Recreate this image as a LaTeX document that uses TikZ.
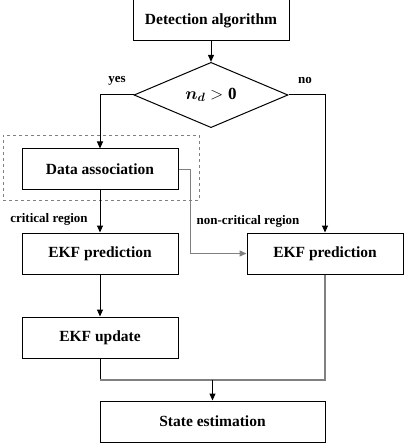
\documentclass[tikz,border=0pt]{standalone}
\usepackage{fontspec}
\setmainfont{Liberation Serif}
\usepackage{amsmath}
\usepackage{bm}
\usetikzlibrary{arrows.meta, positioning, shapes.geometric}
\tikzset{%
	stagebox/.style={
		rectangle,
		draw,
		line width=1pt,
		minimum width=156pt,
		minimum height=41pt,
		inner sep=0pt,
		font=\fontsize{15.5}{18}\selectfont\bfseries
	},
	condbox/.style={
		diamond,
		draw,
		line width=1pt,
		minimum width=154pt,
		minimum height=38pt,
		inner sep=0pt,
		font=\fontsize{17}{20}\selectfont
	},
	groupbox/.style={
		rectangle,
		draw=gray,
		dashed,
		line width=0.6pt,
		inner sep=0pt
	},
	tag/.style={
		font=\fontsize{13}{15}\selectfont\bfseries,
		inner sep=0pt
	},
	link/.style={
		line width=1pt,
		-{Triangle[length=7pt,width=6pt]}
	},
	greylink/.style={
		link,
		draw=black!50,
		line width=1.2pt
	},
}

\begin{document}
\begin{tikzpicture}[x=1pt, y=-1pt]
			\useasboundingbox (0,0) rectangle (404,443);
			
			% Boxes
			\node[stagebox] (detect) at (211,20.5) {Detection algorithm};
			\node[condbox] (cond) at (211,95) {$\bm{n_d} > \mathbf{0}$};
			\node[groupbox, minimum width=196pt, minimum height=65pt] (group) at (101,167.5) {};
			\node[stagebox] (assoc) at (100,169.5) {Data association};
			\node[stagebox] (predA) at (100,253.5) {EKF prediction};
			\node[stagebox] (predB) at (325,253.5) {EKF prediction};
			\node[stagebox] (update) at (100,337.5) {EKF update};
			\node[stagebox, minimum width=225pt] (estim) at (212.5,421.5) {State estimation};
			
			% Labels
			\node[tag] (yes) at (117,81) {yes};
			\node[tag] (no) at (305,81) {no};
			\node[tag] (crit) at (49,219) {critical region};
			\node[tag] (noncrit) at (248,221) {non-critical region};
			
			% Connectors
			\draw[link] (detect) -- (cond);
			\draw[link] (cond.west) -| (assoc);
			\draw[link] (cond.east) -| (predB);
			\draw[link] (assoc) -- (predA);
			\draw[greylink] (assoc.east) -- ++(12,0) |- (predB.west);
			\draw[link] (predA) -- (update);
			
			% Joining the two branches
			\coordinate (joinL) at (100,380);
			\coordinate (joinM) at (estim.north |- joinL);
			\draw[line width=1pt] (update) -- (joinL);
			\draw[line width=1.2pt, draw=black!50] (predB) |- (joinL);
			\draw[link] (joinM) -- (estim);
			
		\end{tikzpicture}
\end{document}
